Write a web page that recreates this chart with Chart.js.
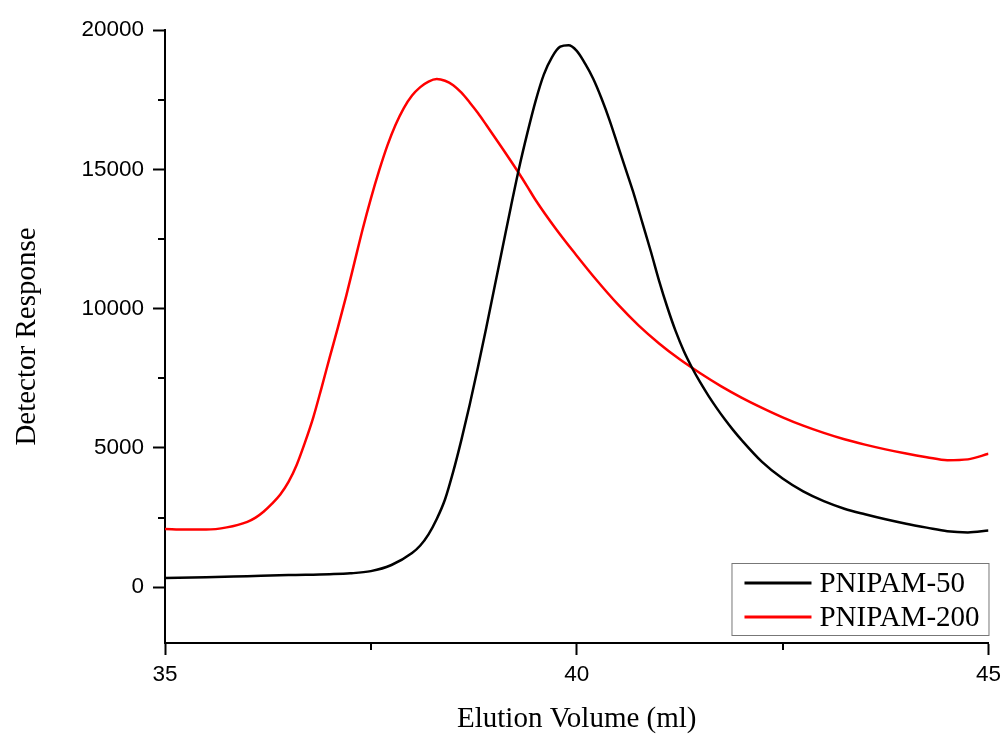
<!DOCTYPE html>
<html>
<head>
<meta charset="utf-8">
<script src="https://cdn.jsdelivr.net/npm/chart.js@4.4.0/dist/chart.umd.min.js"></script>
<style>
    html, body { margin: 0; padding: 0; background: #fff; }
    #wrap { width: 1007px; height: 734px; }
</style>
</head>
<body>
<div id="wrap"><canvas id="myChart" width="1007" height="734"></canvas></div>
<script>
// elution volume (ml) and detector response
const volume50 = [35.0, 35.5, 36.0, 36.5, 37.0, 37.25, 37.5, 37.75, 38.0, 38.1, 38.2, 38.3, 38.4, 38.5, 38.6, 38.7, 38.8, 38.9, 39.0, 39.1,
    39.2, 39.3, 39.4, 39.5, 39.6, 39.7, 39.8, 39.9, 40.0, 40.1, 40.2, 40.3, 40.4, 40.5, 40.6, 40.7, 40.8, 40.9, 41.0, 41.1,
    41.2, 41.3, 41.4, 41.5, 41.6, 41.7, 41.8, 41.9, 42.0, 42.25, 42.5, 42.75, 43.0, 43.25, 43.5, 43.75, 44.0, 44.25, 44.5, 44.75, 45.0];
const response50 = [330, 360, 400, 440, 470, 500, 580, 800, 1230, 1500, 1900, 2450, 3150, 4150, 5300, 6550, 7900, 9300, 10750, 12200,
    13650, 15050, 16300, 17450, 18400, 19030, 19400, 19450, 19250, 18800, 18250, 17550, 16750, 15850, 14950, 14050, 13050, 12050, 11000, 10050,
    9200, 8480, 7880, 7350, 6870, 6430, 6020, 5640, 5290, 4500, 3900, 3440, 3090, 2820, 2620, 2440, 2280, 2140, 2010, 1970, 2040];

const volume200 = [35.0, 35.25, 35.5, 35.75, 36.0, 36.1, 36.2, 36.3, 36.4, 36.5, 36.6, 36.7, 36.8, 36.9, 37.0, 37.1, 37.2, 37.3, 37.4, 37.5,
    37.6, 37.7, 37.8, 37.9, 38.0, 38.1, 38.2, 38.3, 38.4, 38.5, 38.6, 38.7, 38.8, 38.9, 39.0, 39.1, 39.2, 39.3, 39.4, 39.5,
    39.75, 40.0, 40.25, 40.5, 40.75, 41.0, 41.25, 41.5, 41.75, 42.0, 42.25, 42.5, 42.75, 43.0, 43.25, 43.5, 43.75, 44.0, 44.25, 44.5, 44.75, 45.0];
const response200 = [2090, 2070, 2070, 2150, 2350, 2500, 2720, 3000, 3330, 3780, 4400, 5200, 6090, 7150, 8250, 9330, 10450, 11650, 12850, 13950,
    14950, 15850, 16600, 17200, 17650, 17950, 18150, 18240, 18180, 18020, 17750, 17400, 17020, 16600, 16170, 15740, 15300, 14850, 14380, 13900,
    12850, 11900, 10990, 10150, 9400, 8750, 8180, 7680, 7220, 6810, 6440, 6100, 5800, 5540, 5310, 5120, 4950, 4800, 4670, 4560, 4590, 4790];

const seriesNames = ['PNIPAM-50', 'PNIPAM-200'];
const seriesColors = ['#000000', '#ff0000'];

const xMajor = [35, 40, 45];
const xMinor = [37.5, 42.5];
const yMajor = [0, 5000, 10000, 15000, 20000];
const yMinor = [2500, 7500, 12500, 17500];

function toPoints(xs, ys) {
    return xs.map((x, i) => ({ x: x, y: ys[i] }));
}

const tickFont = { family: 'Liberation Sans, Arial, sans-serif', size: 22.5 };
const titleFont = { family: 'Liberation Serif, Times New Roman, serif', size: 29, lineHeight: 1 };

// minor ticks on both axes
const minorTicks = {
    id: 'minorTicks',
    afterDraw(chart) {
        const ctx = chart.ctx;
        const xs = chart.scales.x, ys = chart.scales.y;
        ctx.save();
        ctx.strokeStyle = '#000';
        ctx.lineWidth = 2;
        ctx.beginPath();
        xMinor.forEach(v => {
            const px = Math.round(xs.getPixelForValue(v));
            ctx.moveTo(px, ys.bottom);
            ctx.lineTo(px, ys.bottom + 7);
        });
        yMinor.forEach(v => {
            const py = Math.round(ys.getPixelForValue(v));
            ctx.moveTo(xs.left - 7, py);
            ctx.lineTo(xs.left, py);
        });
        ctx.stroke();
        ctx.restore();
    }
};

// boxed legend in the lower right corner of the plot
const boxLegend = {
    id: 'boxLegend',
    afterDraw(chart) {
        const ctx = chart.ctx;
        const area = chart.chartArea;
        const w = 257, h = 72;
        const bx = area.right - w, by = area.bottom - h - 8;
        ctx.save();
        ctx.fillStyle = '#fff';
        ctx.fillRect(bx, by, w, h);
        ctx.strokeStyle = '#777';
        ctx.lineWidth = 1;
        ctx.strokeRect(bx + 0.5, by + 0.5, w, h);
        ctx.font = titleFont.size + 'px ' + titleFont.family;
        ctx.textBaseline = 'middle';
        chart.data.datasets.forEach((ds, i) => {
            const cy = by + 20 + i * 34;
            ctx.strokeStyle = ds.borderColor;
            ctx.lineWidth = 3;
            ctx.beginPath();
            ctx.moveTo(bx + 13, cy);
            ctx.lineTo(bx + 80, cy);
            ctx.stroke();
            ctx.fillStyle = '#000';
            ctx.fillText(ds.label, bx + 88, cy + 1);
        });
        ctx.restore();
    }
};

const ctx = document.getElementById('myChart').getContext('2d');
new Chart(ctx, {
    type: 'line',
    data: {
        datasets: [
            { label: seriesNames[0], data: toPoints(volume50, response50), borderColor: seriesColors[0] },
            { label: seriesNames[1], data: toPoints(volume200, response200), borderColor: seriesColors[1] }
        ]
    },
    options: {
        responsive: false,
        animation: false,
        layout: { padding: { top: 30, right: 16, left: 0, bottom: 0 } },
        elements: {
            point: { radius: 0 },
            line: { borderWidth: 2.5, cubicInterpolationMode: 'monotone', fill: false }
        },
        plugins: { legend: { display: false }, tooltip: { enabled: false } },
        scales: {
            x: {
                type: 'linear',
                min: 35, max: 45,
                afterBuildTicks: s => { s.ticks = xMajor.map(v => ({ value: v })); },
                afterFit: s => { s.height = 91; },
                ticks: { font: tickFont, color: '#000', padding: 6, maxRotation: 0, callback: v => String(v) },
                grid: { drawOnChartArea: false, drawTicks: true, tickLength: 12, tickColor: '#000', tickWidth: 2 },
                border: { color: '#000', width: 2 },
                title: { display: true, text: 'Elution Volume (ml)', font: titleFont, color: '#000', padding: { top: 0, bottom: 0 } }
            },
            y: {
                min: -2000, max: 20000,
                afterBuildTicks: s => { s.ticks = yMajor.map(v => ({ value: v })); },
                afterFit: s => { s.width = 165; },
                ticks: { font: tickFont, color: '#000', padding: 9, callback: v => String(v) },
                grid: { drawOnChartArea: false, drawTicks: true, tickLength: 12, tickColor: '#000', tickWidth: 2 },
                border: { color: '#000', width: 2 },
                title: { display: true, text: 'Detector Response', font: titleFont, color: '#000', padding: { top: 13, bottom: 0 } }
            }
        }
    },
    plugins: [minorTicks, boxLegend]
});
</script>
</body>
</html>
